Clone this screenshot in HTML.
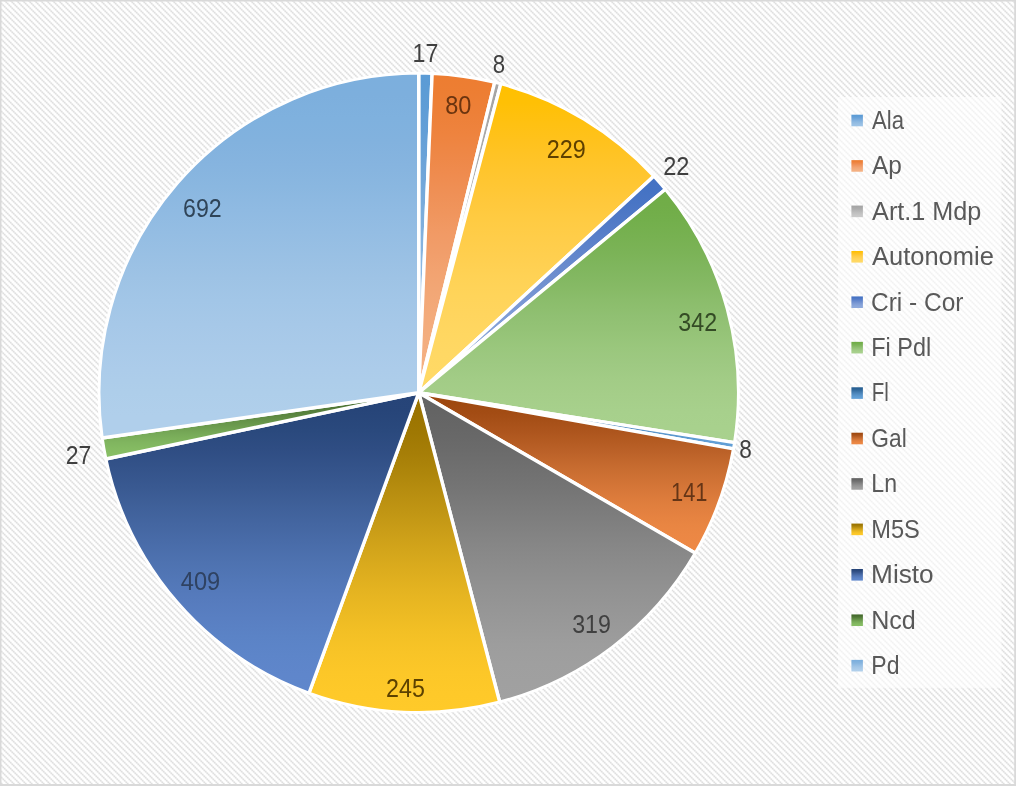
<!DOCTYPE html>
<html lang="it">
<head>
<meta charset="utf-8">
<title>Grafico a torta</title>
<style>
html,body{margin:0;padding:0;background:#fff;}
body{width:1016px;height:786px;overflow:hidden;}
svg{display:block;}
text{font-family:"Liberation Sans",sans-serif;font-size:24.5px;}
.dl{fill:#404040;}
.lg{fill:#595959;}
</style>
</head>
<body>
<svg width="1016" height="786" viewBox="0 0 1016 786">
<defs>
<pattern id="hatch" width="6" height="6" patternUnits="userSpaceOnUse" patternTransform="translate(4 0)">
<rect width="6" height="6" fill="#ffffff"/>
<g shape-rendering="crispEdges"><rect x="0" y="0" width="1" height="1" fill="#dfdfdf"/><rect x="1" y="0" width="1" height="1" fill="#ededed"/><rect x="4" y="0" width="1" height="1" fill="#fbfbfb"/><rect x="5" y="0" width="1" height="1" fill="#f3f3f3"/><rect x="0" y="1" width="1" height="1" fill="#ededed"/><rect x="1" y="1" width="1" height="1" fill="#e9e9e9"/><rect x="2" y="1" width="1" height="1" fill="#ededed"/><rect x="3" y="1" width="1" height="1" fill="#fcfcfc"/><rect x="5" y="1" width="1" height="1" fill="#fcfcfc"/><rect x="1" y="2" width="1" height="1" fill="#ededed"/><rect x="2" y="2" width="1" height="1" fill="#dfdfdf"/><rect x="3" y="2" width="1" height="1" fill="#f3f3f3"/><rect x="4" y="2" width="1" height="1" fill="#fbfbfb"/><rect x="1" y="3" width="1" height="1" fill="#fbfbfb"/><rect x="2" y="3" width="1" height="1" fill="#f3f3f3"/><rect x="3" y="3" width="1" height="1" fill="#dfdfdf"/><rect x="4" y="3" width="1" height="1" fill="#ededed"/><rect x="0" y="4" width="1" height="1" fill="#fcfcfc"/><rect x="2" y="4" width="1" height="1" fill="#fcfcfc"/><rect x="3" y="4" width="1" height="1" fill="#ededed"/><rect x="4" y="4" width="1" height="1" fill="#e9e9e9"/><rect x="5" y="4" width="1" height="1" fill="#ededed"/><rect x="0" y="5" width="1" height="1" fill="#f3f3f3"/><rect x="1" y="5" width="1" height="1" fill="#fbfbfb"/><rect x="4" y="5" width="1" height="1" fill="#ededed"/><rect x="5" y="5" width="1" height="1" fill="#dfdfdf"/></g>
</pattern>
<linearGradient id="g0" x1="0" y1="0" x2="0" y2="1"><stop offset="0" stop-color="#5B9BD5"/><stop offset="0.0625" stop-color="#5C9CD5"/><stop offset="0.125" stop-color="#5F9DD6"/><stop offset="0.1875" stop-color="#639FD7"/><stop offset="0.25" stop-color="#69A2D8"/><stop offset="0.3125" stop-color="#6FA5D9"/><stop offset="0.375" stop-color="#75A9DB"/><stop offset="0.4375" stop-color="#7BADDC"/><stop offset="0.5" stop-color="#81B0DE"/><stop offset="0.5625" stop-color="#87B4DF"/><stop offset="0.625" stop-color="#8CB8E1"/><stop offset="0.6875" stop-color="#91BBE2"/><stop offset="0.75" stop-color="#95BDE3"/><stop offset="0.8125" stop-color="#98C0E5"/><stop offset="0.875" stop-color="#9BC1E5"/><stop offset="0.9375" stop-color="#9CC3E6"/><stop offset="1" stop-color="#9DC3E6"/></linearGradient>
<linearGradient id="g1" x1="0" y1="0" x2="0" y2="1"><stop offset="0" stop-color="#ED7D31"/><stop offset="0.0625" stop-color="#ED7E33"/><stop offset="0.125" stop-color="#ED8038"/><stop offset="0.1875" stop-color="#EE833E"/><stop offset="0.25" stop-color="#EE8746"/><stop offset="0.3125" stop-color="#EF8B4E"/><stop offset="0.375" stop-color="#EF9056"/><stop offset="0.4375" stop-color="#F0955D"/><stop offset="0.5" stop-color="#F19A65"/><stop offset="0.5625" stop-color="#F19E6B"/><stop offset="0.625" stop-color="#F2A371"/><stop offset="0.6875" stop-color="#F2A776"/><stop offset="0.75" stop-color="#F3AA7A"/><stop offset="0.8125" stop-color="#F3AD7E"/><stop offset="0.875" stop-color="#F4AF81"/><stop offset="0.9375" stop-color="#F4B182"/><stop offset="1" stop-color="#F4B183"/></linearGradient>
<linearGradient id="g2" x1="0" y1="0" x2="0" y2="1"><stop offset="0" stop-color="#A5A5A5"/><stop offset="0.0625" stop-color="#A5A5A5"/><stop offset="0.125" stop-color="#A7A7A7"/><stop offset="0.1875" stop-color="#A9A9A9"/><stop offset="0.25" stop-color="#ABABAB"/><stop offset="0.3125" stop-color="#AEAEAE"/><stop offset="0.375" stop-color="#B1B1B1"/><stop offset="0.4375" stop-color="#B5B5B5"/><stop offset="0.5" stop-color="#B8B8B8"/><stop offset="0.5625" stop-color="#BBBBBB"/><stop offset="0.625" stop-color="#BFBFBF"/><stop offset="0.6875" stop-color="#C1C1C1"/><stop offset="0.75" stop-color="#C4C4C4"/><stop offset="0.8125" stop-color="#C6C6C6"/><stop offset="0.875" stop-color="#C8C8C8"/><stop offset="0.9375" stop-color="#C9C9C9"/><stop offset="1" stop-color="#C9C9C9"/></linearGradient>
<linearGradient id="g3" x1="0" y1="0" x2="0" y2="1"><stop offset="0" stop-color="#FFC000"/><stop offset="0.0625" stop-color="#FFC005"/><stop offset="0.125" stop-color="#FFC111"/><stop offset="0.1875" stop-color="#FFC21D"/><stop offset="0.25" stop-color="#FFC428"/><stop offset="0.3125" stop-color="#FFC631"/><stop offset="0.375" stop-color="#FFC83A"/><stop offset="0.4375" stop-color="#FFCB42"/><stop offset="0.5" stop-color="#FFCD49"/><stop offset="0.5625" stop-color="#FFCF4F"/><stop offset="0.625" stop-color="#FFD255"/><stop offset="0.6875" stop-color="#FFD45A"/><stop offset="0.75" stop-color="#FFD55E"/><stop offset="0.8125" stop-color="#FFD761"/><stop offset="0.875" stop-color="#FFD864"/><stop offset="0.9375" stop-color="#FFD965"/><stop offset="1" stop-color="#FFD966"/></linearGradient>
<linearGradient id="g4" x1="0" y1="0" x2="0" y2="1"><stop offset="0" stop-color="#4472C4"/><stop offset="0.0625" stop-color="#4573C4"/><stop offset="0.125" stop-color="#4975C5"/><stop offset="0.1875" stop-color="#4F79C6"/><stop offset="0.25" stop-color="#557DC8"/><stop offset="0.3125" stop-color="#5C82CA"/><stop offset="0.375" stop-color="#6487CC"/><stop offset="0.4375" stop-color="#6B8CCE"/><stop offset="0.5" stop-color="#7191D0"/><stop offset="0.5625" stop-color="#7896D3"/><stop offset="0.625" stop-color="#7D9BD5"/><stop offset="0.6875" stop-color="#829FD7"/><stop offset="0.75" stop-color="#87A3D8"/><stop offset="0.8125" stop-color="#8AA6DA"/><stop offset="0.875" stop-color="#8DA8DB"/><stop offset="0.9375" stop-color="#8EA9DC"/><stop offset="1" stop-color="#8FAADC"/></linearGradient>
<linearGradient id="g5" x1="0" y1="0" x2="0" y2="1"><stop offset="0" stop-color="#70AD47"/><stop offset="0.0625" stop-color="#71AD48"/><stop offset="0.125" stop-color="#73AF4C"/><stop offset="0.1875" stop-color="#77B151"/><stop offset="0.25" stop-color="#7BB357"/><stop offset="0.3125" stop-color="#80B65E"/><stop offset="0.375" stop-color="#85B964"/><stop offset="0.4375" stop-color="#8BBD6B"/><stop offset="0.5" stop-color="#90C072"/><stop offset="0.5625" stop-color="#95C377"/><stop offset="0.625" stop-color="#9AC77D"/><stop offset="0.6875" stop-color="#9EC982"/><stop offset="0.75" stop-color="#A2CC86"/><stop offset="0.8125" stop-color="#A5CE89"/><stop offset="0.875" stop-color="#A7D08C"/><stop offset="0.9375" stop-color="#A8D18D"/><stop offset="1" stop-color="#A9D18E"/></linearGradient>
<linearGradient id="g6" x1="0" y1="0" x2="0" y2="1"><stop offset="0" stop-color="#255E91"/><stop offset="0.0625" stop-color="#265F92"/><stop offset="0.125" stop-color="#2A6295"/><stop offset="0.1875" stop-color="#2F6699"/><stop offset="0.25" stop-color="#346C9F"/><stop offset="0.3125" stop-color="#3A72A5"/><stop offset="0.375" stop-color="#4078AB"/><stop offset="0.4375" stop-color="#467EB2"/><stop offset="0.5" stop-color="#4B84B8"/><stop offset="0.5625" stop-color="#508ABF"/><stop offset="0.625" stop-color="#548FC4"/><stop offset="0.6875" stop-color="#5894CA"/><stop offset="0.75" stop-color="#5C98CE"/><stop offset="0.8125" stop-color="#5E9BD2"/><stop offset="0.875" stop-color="#609ED5"/><stop offset="0.9375" stop-color="#629FD6"/><stop offset="1" stop-color="#62A0D7"/></linearGradient>
<linearGradient id="g7" x1="0" y1="0" x2="0" y2="1"><stop offset="0" stop-color="#9E480E"/><stop offset="0.0625" stop-color="#9F4910"/><stop offset="0.125" stop-color="#A34C14"/><stop offset="0.1875" stop-color="#A85119"/><stop offset="0.25" stop-color="#AE561E"/><stop offset="0.3125" stop-color="#B55C23"/><stop offset="0.375" stop-color="#BC6229"/><stop offset="0.4375" stop-color="#C4692E"/><stop offset="0.5" stop-color="#CB6F32"/><stop offset="0.5625" stop-color="#D27436"/><stop offset="0.625" stop-color="#D9793A"/><stop offset="0.6875" stop-color="#DF7E3D"/><stop offset="0.75" stop-color="#E48140"/><stop offset="0.8125" stop-color="#E88542"/><stop offset="0.875" stop-color="#EB8744"/><stop offset="0.9375" stop-color="#ED8845"/><stop offset="1" stop-color="#EE8945"/></linearGradient>
<linearGradient id="g8" x1="0" y1="0" x2="0" y2="1"><stop offset="0" stop-color="#636363"/><stop offset="0.0625" stop-color="#646464"/><stop offset="0.125" stop-color="#676767"/><stop offset="0.1875" stop-color="#6B6B6B"/><stop offset="0.25" stop-color="#707070"/><stop offset="0.3125" stop-color="#757575"/><stop offset="0.375" stop-color="#7B7B7B"/><stop offset="0.4375" stop-color="#818181"/><stop offset="0.5" stop-color="#878787"/><stop offset="0.5625" stop-color="#8C8C8C"/><stop offset="0.625" stop-color="#919191"/><stop offset="0.6875" stop-color="#959595"/><stop offset="0.75" stop-color="#999999"/><stop offset="0.8125" stop-color="#9D9D9D"/><stop offset="0.875" stop-color="#9F9F9F"/><stop offset="0.9375" stop-color="#A0A0A0"/><stop offset="1" stop-color="#A1A1A1"/></linearGradient>
<linearGradient id="g9" x1="0" y1="0" x2="0" y2="1"><stop offset="0" stop-color="#997300"/><stop offset="0.0625" stop-color="#9B7401"/><stop offset="0.125" stop-color="#9F7803"/><stop offset="0.1875" stop-color="#A67E07"/><stop offset="0.25" stop-color="#AE860B"/><stop offset="0.3125" stop-color="#B88E10"/><stop offset="0.375" stop-color="#C19614"/><stop offset="0.4375" stop-color="#CB9E18"/><stop offset="0.5" stop-color="#D4A61B"/><stop offset="0.5625" stop-color="#DDAD1E"/><stop offset="0.625" stop-color="#E5B421"/><stop offset="0.6875" stop-color="#ECBA23"/><stop offset="0.75" stop-color="#F3C025"/><stop offset="0.8125" stop-color="#F8C427"/><stop offset="0.875" stop-color="#FCC728"/><stop offset="0.9375" stop-color="#FEC929"/><stop offset="1" stop-color="#FFCA29"/></linearGradient>
<linearGradient id="g10" x1="0" y1="0" x2="0" y2="1"><stop offset="0" stop-color="#264478"/><stop offset="0.0625" stop-color="#274579"/><stop offset="0.125" stop-color="#2A497D"/><stop offset="0.1875" stop-color="#2F4D83"/><stop offset="0.25" stop-color="#34538A"/><stop offset="0.3125" stop-color="#395991"/><stop offset="0.375" stop-color="#3F6099"/><stop offset="0.4375" stop-color="#4466A1"/><stop offset="0.5" stop-color="#496CA9"/><stop offset="0.5625" stop-color="#4E72B0"/><stop offset="0.625" stop-color="#5277B7"/><stop offset="0.6875" stop-color="#567BBD"/><stop offset="0.75" stop-color="#597FC2"/><stop offset="0.8125" stop-color="#5B83C6"/><stop offset="0.875" stop-color="#5D85C9"/><stop offset="0.9375" stop-color="#5F86CB"/><stop offset="1" stop-color="#5F87CC"/></linearGradient>
<linearGradient id="g11" x1="0" y1="0" x2="0" y2="1"><stop offset="0" stop-color="#43682B"/><stop offset="0.0625" stop-color="#446A2C"/><stop offset="0.125" stop-color="#486E2F"/><stop offset="0.1875" stop-color="#4D7434"/><stop offset="0.25" stop-color="#537B39"/><stop offset="0.3125" stop-color="#59833E"/><stop offset="0.375" stop-color="#608B44"/><stop offset="0.4375" stop-color="#669449"/><stop offset="0.5" stop-color="#6C9B4E"/><stop offset="0.5625" stop-color="#72A353"/><stop offset="0.625" stop-color="#77AA58"/><stop offset="0.6875" stop-color="#7CB05B"/><stop offset="0.75" stop-color="#80B55F"/><stop offset="0.8125" stop-color="#83B961"/><stop offset="0.875" stop-color="#86BC63"/><stop offset="0.9375" stop-color="#87BE65"/><stop offset="1" stop-color="#88BF65"/></linearGradient>
<linearGradient id="g12" x1="0" y1="0" x2="0" y2="1"><stop offset="0" stop-color="#7CAFDD"/><stop offset="0.0625" stop-color="#7DAFDD"/><stop offset="0.125" stop-color="#7FB1DE"/><stop offset="0.1875" stop-color="#82B2DE"/><stop offset="0.25" stop-color="#86B4DF"/><stop offset="0.3125" stop-color="#8AB7E0"/><stop offset="0.375" stop-color="#8FBAE2"/><stop offset="0.4375" stop-color="#94BDE3"/><stop offset="0.5" stop-color="#99C0E4"/><stop offset="0.5625" stop-color="#9EC3E5"/><stop offset="0.625" stop-color="#A2C6E7"/><stop offset="0.6875" stop-color="#A6C8E8"/><stop offset="0.75" stop-color="#A9CAE9"/><stop offset="0.8125" stop-color="#ACCCEA"/><stop offset="0.875" stop-color="#AECEEA"/><stop offset="0.9375" stop-color="#B0CFEB"/><stop offset="1" stop-color="#B0CFEB"/></linearGradient>
<clipPath id="pieclip"><circle cx="418.7" cy="392.8" r="321.2"/></clipPath>
</defs>
<rect x="0" y="0" width="1016" height="786" fill="url(#hatch)"/>
<path d="M0 0H1016V786H0Z M1.5 1.5V784.1H1014.2V1.5Z" fill="#d9d9d9" fill-rule="evenodd"/>
<rect x="838" y="97" width="163.5" height="590.8" fill="#ffffff" fill-opacity="0.6"/>
<g stroke="#ffffff" stroke-width="3.4" stroke-linejoin="round" clip-path="url(#pieclip)">
<path d="M418.70 392.80L418.70 72.90A319.9 319.9 0 0 1 432.15 73.18Z" fill="url(#g0)"/>
<path d="M418.70 392.80L432.15 73.18A319.9 319.9 0 0 1 494.75 82.07Z" fill="url(#g1)"/>
<path d="M418.70 392.80L494.75 82.07A319.9 319.9 0 0 1 500.89 83.64Z" fill="url(#g2)"/>
<path d="M418.70 392.80L500.89 83.64A319.9 319.9 0 0 1 654.02 176.09Z" fill="url(#g3)"/>
<path d="M418.70 392.80L654.02 176.09A319.9 319.9 0 0 1 665.46 189.22Z" fill="url(#g4)"/>
<path d="M418.70 392.80L665.46 189.22A319.9 319.9 0 0 1 734.69 442.67Z" fill="url(#g5)"/>
<path d="M418.70 392.80L734.69 442.67A319.9 319.9 0 0 1 733.64 448.91Z" fill="url(#g6)"/>
<path d="M418.70 392.80L733.64 448.91A319.9 319.9 0 0 1 695.48 553.21Z" fill="url(#g7)"/>
<path d="M418.70 392.80L695.48 553.21A319.9 319.9 0 0 1 499.74 702.26Z" fill="url(#g8)"/>
<path d="M418.70 392.80L499.74 702.26A319.9 319.9 0 0 1 308.96 693.29Z" fill="url(#g9)"/>
<path d="M418.70 392.80L308.96 693.29A319.9 319.9 0 0 1 105.73 459.01Z" fill="url(#g10)"/>
<path d="M418.70 392.80L105.73 459.01A319.9 319.9 0 0 1 102.01 437.97Z" fill="url(#g11)"/>
<path d="M418.70 392.80L102.01 437.97A319.9 319.9 0 0 1 418.70 72.90Z" fill="url(#g12)"/>
</g>
<g>
<text transform="translate(412.58 61.79) scale(0.9467 1.03)" class="dl">17</text>
<text transform="translate(445.22 113.69) scale(0.9592 1.03)" class="dl" style="fill:#6B340F">80</text>
<text transform="translate(492.68 72.84) scale(0.9055 1.03)" class="dl">8</text>
<text transform="translate(546.81 157.79) scale(0.9532 1.03)" class="dl" style="fill:#5E4000">229</text>
<text transform="translate(663.20 175.07) scale(0.9616 1.03)" class="dl">22</text>
<text transform="translate(678.35 330.94) scale(0.9502 1.03)" class="dl" style="fill:#344B25">342</text>
<text transform="translate(739.26 457.79) scale(0.9231 1.03)" class="dl">8</text>
<text transform="translate(671.03 500.89) scale(0.8927 1.03)" class="dl" style="fill:#653516">141</text>
<text transform="translate(572.15 632.74) scale(0.9471 1.03)" class="dl" style="fill:#404040">319</text>
<text transform="translate(386.01 696.74) scale(0.9502 1.03)" class="dl" style="fill:#5C4100">245</text>
<text transform="translate(180.80 589.84) scale(0.9636 1.03)" class="dl" style="fill:#2F4262">409</text>
<text transform="translate(65.73 464.02) scale(0.9374 1.03)" class="dl">27</text>
<text transform="translate(183.02 216.59) scale(0.9459 1.03)" class="dl" style="fill:#2F4458">692</text>
</g>
<g>
<rect x="851.4" y="114.70" width="11.5" height="11.6" fill="url(#g0)"/>
<text transform="translate(872.09 128.90) scale(0.9021 1.015)" class="lg">Ala</text>
<rect x="851.4" y="160.13" width="11.5" height="11.6" fill="url(#g1)"/>
<text transform="translate(872.08 174.33) scale(0.9948 1.015)" class="lg">Ap</text>
<rect x="851.4" y="205.56" width="11.5" height="11.6" fill="url(#g2)"/>
<text transform="translate(872.07 219.76) scale(1.0295 1.015)" class="lg">Art.1 Mdp</text>
<rect x="851.4" y="250.99" width="11.5" height="11.6" fill="url(#g3)"/>
<text transform="translate(872.07 265.19) scale(1.0399 1.015)" class="lg">Autonomie</text>
<rect x="851.4" y="296.42" width="11.5" height="11.6" fill="url(#g4)"/>
<text transform="translate(870.95 310.62) scale(1.0003 1.015)" class="lg">Cri - Cor</text>
<rect x="851.4" y="341.85" width="11.5" height="11.6" fill="url(#g5)"/>
<text transform="translate(871.29 356.05) scale(0.9559 1.015)" class="lg">Fi Pdl</text>
<rect x="851.4" y="387.28" width="11.5" height="11.6" fill="url(#g6)"/>
<text transform="translate(871.63 401.48) scale(0.8358 1.015)" class="lg">Fl</text>
<rect x="851.4" y="432.71" width="11.5" height="11.6" fill="url(#g7)"/>
<text transform="translate(871.34 446.91) scale(0.9277 1.015)" class="lg">Gal</text>
<rect x="851.4" y="478.14" width="11.5" height="11.6" fill="url(#g8)"/>
<text transform="translate(871.31 492.34) scale(0.9439 1.015)" class="lg">Ln</text>
<rect x="851.4" y="523.57" width="11.5" height="11.6" fill="url(#g9)"/>
<text transform="translate(871.27 537.77) scale(0.9651 1.015)" class="lg">M5S</text>
<rect x="851.4" y="569.00" width="11.5" height="11.6" fill="url(#g10)"/>
<text transform="translate(871.06 583.20) scale(1.0703 1.015)" class="lg">Misto</text>
<rect x="851.4" y="614.43" width="11.5" height="11.6" fill="url(#g11)"/>
<text transform="translate(871.15 628.63) scale(1.0250 1.015)" class="lg">Ncd</text>
<rect x="851.4" y="659.86" width="11.5" height="11.6" fill="url(#g12)"/>
<text transform="translate(871.32 674.06) scale(0.9403 1.015)" class="lg">Pd</text>
</g>
</svg>
</body>
</html>
